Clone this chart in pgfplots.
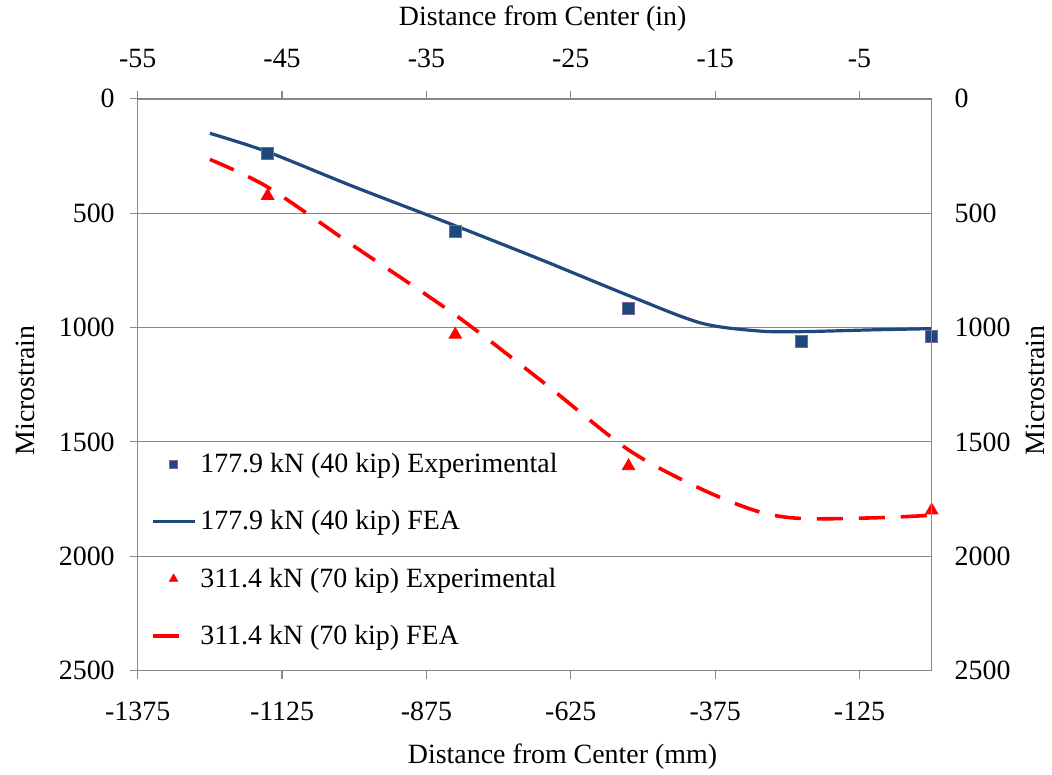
\documentclass[border=0pt]{standalone}
\usepackage{fontspec}
\setmainfont{Liberation Serif}
\usepackage{pgfplots}
\pgfplotsset{compat=1.18}
\usetikzlibrary{calc}

\definecolor{feablue}{HTML}{1F497D}
\definecolor{sqedge}{HTML}{8064A2}
\definecolor{axgray}{HTML}{878787}

\pgfplotsset{
  chartbase/.style={
    width=397bp, height=285.9bp, scale only axis,
    ymin=0, ymax=2500, y dir=reverse,
    font=\fontsize{14}{16.8}\selectfont,
    /pgf/number format/assume math mode=true,
    /pgf/number format/set thousands separator={},
    tick align=outside, major tick length=4bp,
    every tick/.style={draw=axgray, line width=0.6bp},
    axis line style={draw=axgray, line width=0.7bp},
    scaled ticks=false,
  },
}

\begin{document}
\begin{tikzpicture}
% main axis: mm along the bottom, strain on the left
\begin{axis}[chartbase, name=main,
  xmin=-1375, xmax=0,
  xtick={-1375,-1125,-875,-625,-375,-125},
  ytick={0,500,1000,1500,2000,2500},
  xtick pos=bottom, ytick pos=left,
  ymajorgrids, grid style={draw=axgray, line width=0.6bp},
  xticklabel style={yshift=-8bp},
  yticklabel style={xshift=-4bp},
  xlabel={Distance from Center (mm)},
  ylabel={Microstrain},
  xlabel style={at={(axis description cs:0.535,0)}, anchor=center, yshift=-43bp},
  ylabel style={at={(axis description cs:-0.141,0.49)}, anchor=center},
  legend style={at={(axis description cs:0.016,0.388)}, anchor=north west,
    draw=none, fill=none, row sep=13.5bp, inner sep=0pt,
    font=\fontsize{14}{16.8}\selectfont},
  legend cell align=left,
  legend image code/.code={%
    \draw[mark repeat=2, mark phase=2, #1]
      plot coordinates {(0bp,0bp) (10.5bp,0bp) (21bp,0bp)};},
]
\addplot[only marks, mark=square*, mark size=3bp,
  mark options={fill=feablue, draw=sqedge, line width=0.4bp},
  legend image post style={mark size=1.9bp}]
  coordinates {(-1150,238) (-825,581) (-525,918) (-225,1061) (0,1039)};
\addlegendentry{177.9 kN (40 kip) Experimental}
\addplot[feablue, line width=1.6bp, smooth, tension=0.5, no marks]
  coordinates {(-1250,151) (-1150,232) (-1000,385) (-825,555) (-675,705)
               (-525,860) (-400,980) (-300,1015) (-225,1018) (-100,1010) (0,1005)};
\addlegendentry{177.9 kN (40 kip) FEA}
\addplot[only marks, mark=triangle*, mark size=3.6bp,
  mark options={fill=red, draw=red},
  legend image post style={mark size=2.4bp}]
  coordinates {(-1150,424) (-825,1031) (-525,1606) (0,1799)};
\addlegendentry{311.4 kN (70 kip) Experimental}
\addplot[red, line width=1.8bp, dash pattern=on 13bp off 8bp, smooth, tension=0.5, no marks]
  coordinates {(-1250,265) (-1150,386) (-1000,645) (-825,945) (-675,1235)
               (-525,1535) (-400,1705) (-300,1805) (-225,1835) (-100,1832) (0,1821)};
\addlegendentry{311.4 kN (70 kip) FEA}
\end{axis}
% secondary axis: inches along the top, strain on the right
\begin{axis}[chartbase,
  xmin=-55, xmax=0,
  xtick={-55,-45,-35,-25,-15,-5},
  ytick={0,500,1000,1500,2000,2500},
  xtick pos=top, ytick pos=right,
  yticklabel pos=right, xticklabel pos=top,
  y tick style={draw=none},
  xticklabel style={yshift=8bp},
  yticklabel style={xshift=4bp},
  xlabel={Distance from Center (in)},
  ylabel={Microstrain},
  xlabel style={at={(axis description cs:0.51,1)}, anchor=center, yshift=40bp},
  ylabel style={at={(axis description cs:1.13,0.49)}, anchor=center},
]
\end{axis}
\pgfresetboundingbox
\path[use as bounding box] ($(main.south west)+(-68.85bp,-51.75bp)$) rectangle ($(main.north east)+(60.15bp,49.4bp)$);
\end{tikzpicture}
\end{document}
